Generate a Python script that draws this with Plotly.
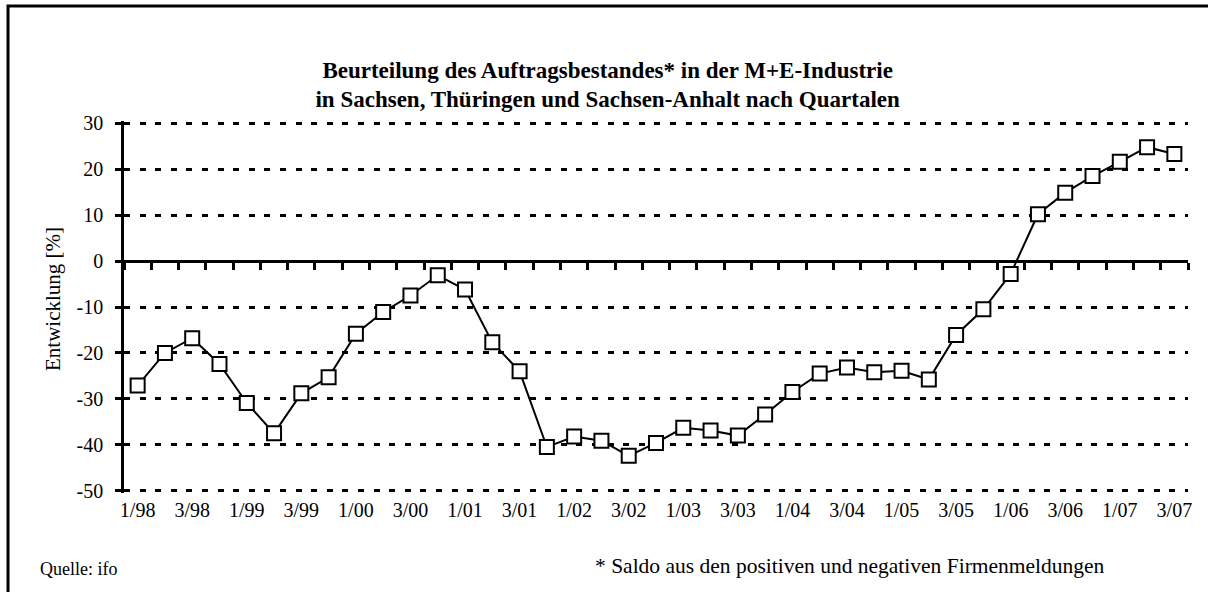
import plotly.graph_objects as go

# Data (quarters 1/98 .. 3/07)
values = [-27.1, -20.0, -16.8, -22.4, -30.9, -37.5, -28.8, -25.3, -15.8, -11.1, -7.5, -3.1,
          -6.2, -17.7, -24.0, -40.5, -38.2, -39.1, -42.4, -39.6, -36.3, -36.9, -38.0, -33.4, -28.5, -24.5,
          -23.2, -24.2, -23.9, -25.8, -16.1, -10.5, -2.8, 10.2, 14.9, 18.5, 21.6, 24.8, 23.3]
tick_labels = ["1/98", "3/98", "1/99", "3/99", "1/00", "3/00", "1/01", "3/01", "1/02", "3/02",
               "1/03", "3/03", "1/04", "3/04", "1/05", "3/05", "1/06", "3/06", "1/07", "3/07"]
y_ticks = [30, 20, 10, 0, -10, -20, -30, -40, -50]
title_lines = ["Beurteilung des Auftragsbestandes* in der M+E-Industrie",
               "in Sachsen, Thüringen und Sachsen-Anhalt nach Quartalen"]

n = len(values)
xs = list(range(n))
font = "Liberation Serif, Times New Roman, serif"

fig = go.Figure()
fig.add_trace(go.Scatter(
    x=xs, y=values, mode="lines+markers",
    line=dict(color="black", width=2),
    marker=dict(symbol="square", size=14, color="white", line=dict(color="black", width=2)),
    showlegend=False, xaxis="x", yaxis="y"))
fig.add_trace(go.Scatter(x=[0], y=[0], mode="markers", marker=dict(opacity=0),
                         showlegend=False, hoverinfo="skip", xaxis="x2", yaxis="y2"))

ymin, ymax = -50.5, 30.5
zero_pos = (0 - ymin) / (ymax - ymin)

fig.update_layout(
    width=1208, height=592,
    margin=dict(l=124, r=20, t=121, b=99),
    paper_bgcolor="white", plot_bgcolor="white",
    font=dict(family=font, size=20, color="black"),
    title=dict(
        text="<b>" + "<br>".join(title_lines) + "</b>",
        x=0.503, xanchor="center", y=0.869, yanchor="middle",
        font=dict(family=font, size=23, color="black")),
    xaxis=dict(
        range=[-0.5, n - 0.5], anchor="free", position=zero_pos,
        showline=True, linecolor="black", linewidth=2.5,
        tickmode="array", tickvals=[i - 0.5 for i in range(n + 1)],
        ticks="outside", ticklen=7, tickwidth=2.5, tickcolor="black",
        showticklabels=False, showgrid=False, zeroline=False),
    xaxis2=dict(
        range=[-0.5, n - 0.5], overlaying="x", anchor="y", side="bottom",
        tickmode="array", tickvals=xs[::2], ticktext=tick_labels,
        ticks="", showline=False, showgrid=False, zeroline=False,
        ticklabelstandoff=3,
        tickfont=dict(family=font, size=20, color="black")),
    yaxis=dict(
        range=[ymin, ymax], tickmode="array", tickvals=y_ticks,
        ticktext=[str(v) for v in y_ticks],
        showline=True, linecolor="black", linewidth=2.5,
        ticks="outside", ticklen=6, tickwidth=2.5, tickcolor="black",
        showgrid=True, gridcolor="black", gridwidth=3, griddash="6px,9.6px",
        zeroline=False, ticklabelstandoff=8,
        tickfont=dict(family=font, size=20, color="black")),
    yaxis2=dict(
        range=[ymin, ymax], overlaying="y", anchor="x", side="left",
        tickmode="array", tickvals=y_ticks, showticklabels=False,
        ticks="inside", ticklen=5, tickwidth=2.5, tickcolor="black",
        showline=False, showgrid=False, zeroline=False),
    shapes=[dict(type="rect", xref="paper", yref="paper",
                 x0=-0.109, x1=1.05, y0=-0.4, y1=1.309,
                 line=dict(color="black", width=3), fillcolor="rgba(0,0,0,0)", layer="below")],
    annotations=[
        dict(text="Entwicklung [%]", xref="paper", yref="paper", x=-0.0667, y=0.5215,
             xanchor="center", yanchor="middle", textangle=-90, showarrow=False,
             font=dict(family=font, size=21, color="black")),
        dict(text="Quelle: ifo", xref="paper", yref="paper", x=-0.0805, y=-0.203,
             xanchor="left", yanchor="middle", showarrow=False,
             font=dict(family=font, size=18, color="black")),
        dict(text="* Saldo aus den positiven und negativen Firmenmeldungen", xref="paper", yref="paper",
             x=0.441, y=-0.196, xanchor="left", yanchor="middle", showarrow=False,
             font=dict(family=font, size=21.5, color="black")),
    ],
)

fig.write_html("out.html", config={"displayModeBar": False},
               post_script="document.body.style.margin='0';")
